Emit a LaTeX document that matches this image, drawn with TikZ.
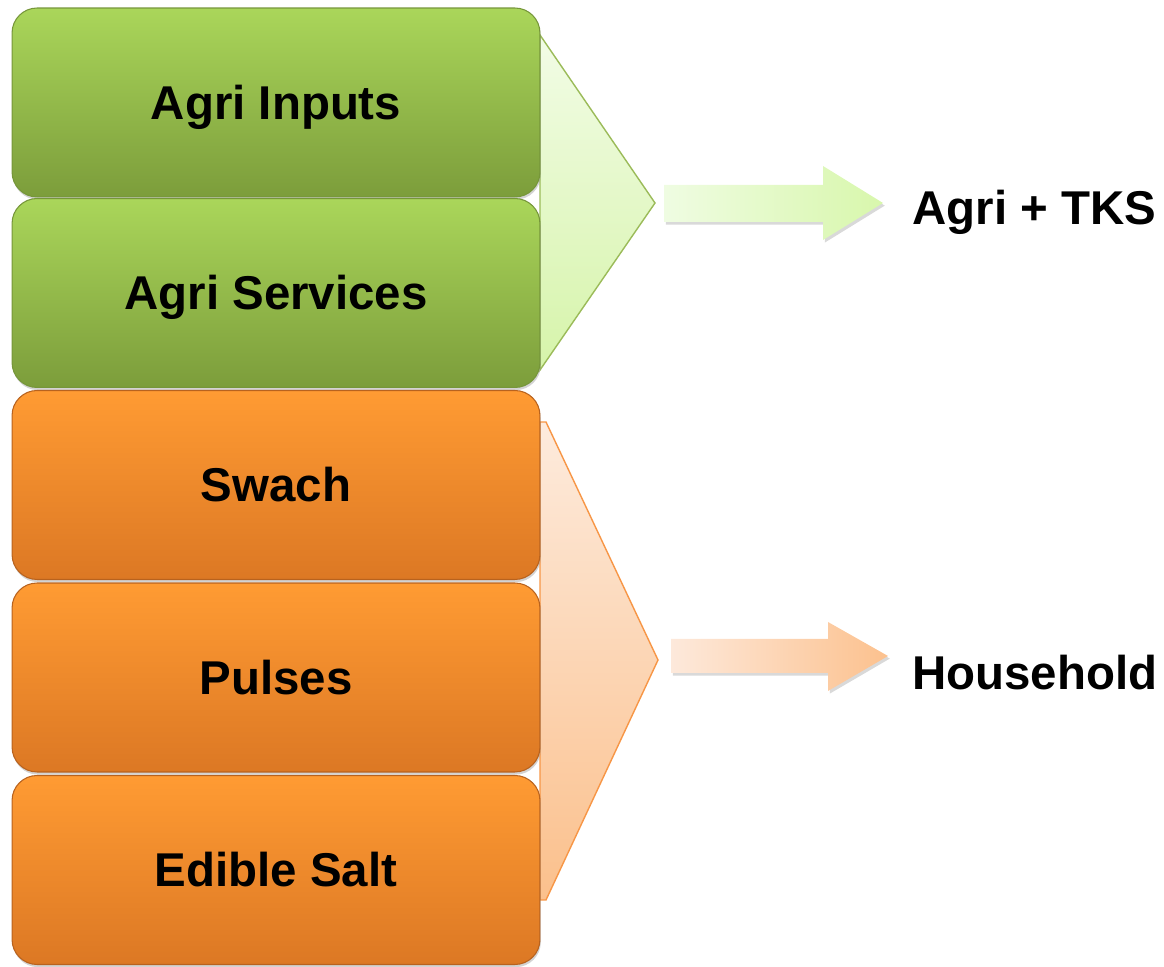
\documentclass[tikz,border=0pt]{standalone}
\usepackage{fontspec}
\setmainfont{Liberation Sans}
\usetikzlibrary{shadows}
\definecolor{gtop}{HTML}{AAD65A}
\definecolor{gbot}{HTML}{7C9D3B}
\definecolor{gedge}{HTML}{76963A}
\definecolor{otop}{HTML}{FF9B33}
\definecolor{obot}{HTML}{DC7824}
\definecolor{oedge}{HTML}{B8621E}
\definecolor{gchevtop}{HTML}{F2FCE6}
\definecolor{gchevbot}{HTML}{D6F4AA}
\definecolor{gchevline}{HTML}{9BBB59}
\definecolor{ochevtop}{HTML}{FDEBDD}
\definecolor{ochevbot}{HTML}{FBC08C}
\definecolor{ochevline}{HTML}{F79646}
\definecolor{garrL}{HTML}{EFFCE2}
\definecolor{garrR}{HTML}{D8F7AC}
\definecolor{oarrL}{HTML}{FDE9DB}
\definecolor{oarrR}{HTML}{FCC18E}
\begin{document}
\begin{tikzpicture}[x=0.02cm,y=0.02cm,
  itembox/.style={rounded corners=0.5cm, minimum width=10.56cm, minimum height=3.78cm,
    inner sep=0pt, outer sep=0pt, line width=0.6pt,
    text height=19.3pt, text depth=0pt,
    font=\fontsize{27}{32}\selectfont\bfseries,
    drop shadow={opacity=0.35, shadow xshift=0.5pt, shadow yshift=-1.5pt}},
  greenbox/.style={itembox, top color=gtop, bottom color=gbot, draw=gedge},
  orangebox/.style={itembox, top color=otop, bottom color=obot, draw=oedge},
  label/.style={anchor=west, inner sep=0pt, text height=19.3pt, text depth=0pt,
    font=\fontsize{27}{32}\selectfont\bfseries},
  blockarrow/.style={drop shadow={opacity=0.3, shadow xshift=1pt, shadow yshift=-1.5pt}}
]
\useasboundingbox (0,0) rectangle (1164,967);

% chevrons (behind the boxes)
\path[top color=gchevtop, bottom color=gchevbot, draw=gchevline, line width=0.8pt]
  (540,932) -- (655,764) -- (540,597) -- cycle;
\path[top color=ochevtop, bottom color=ochevbot, draw=ochevline, line width=0.8pt]
  (540,545) -- (546,545) -- (658,307) -- (546,67) -- (540,67) -- cycle;

% boxes
\node[greenbox]  (inputs)   at (276,864.5) {Agri Inputs};
\node[greenbox]  (services) at (276,674)   {Agri Services};
\node[orangebox] (swach)    at (276,482)   {Swach};
\node[orangebox] (pulses)   at (276,289.5) {Pulses};
\node[orangebox] (salt)     at (276,97)    {Edible Salt};

% labels
\node[label] (agri) at (912,759) {Agri + TKS};
\node[label] (house) at (912,294) {Household};

% block arrows
\coordinate (ga) at (664,764);
\coordinate (oa) at (671,311);
\path[blockarrow, left color=garrL, right color=garrR]
  ([yshift=0.36cm]ga) -- ++(159,0) -- (823,801) -- (883,764) -- (823,727) -- (823,745) -- ([yshift=-0.38cm]ga) -- cycle;
\path[blockarrow, left color=oarrL, right color=oarrR]
  ([yshift=0.34cm]oa) -- ++(157,0) -- (828,345) -- (888,311) -- (828,276) -- (828,294) -- ([yshift=-0.34cm]oa) -- cycle;
\end{tikzpicture}
\end{document}
